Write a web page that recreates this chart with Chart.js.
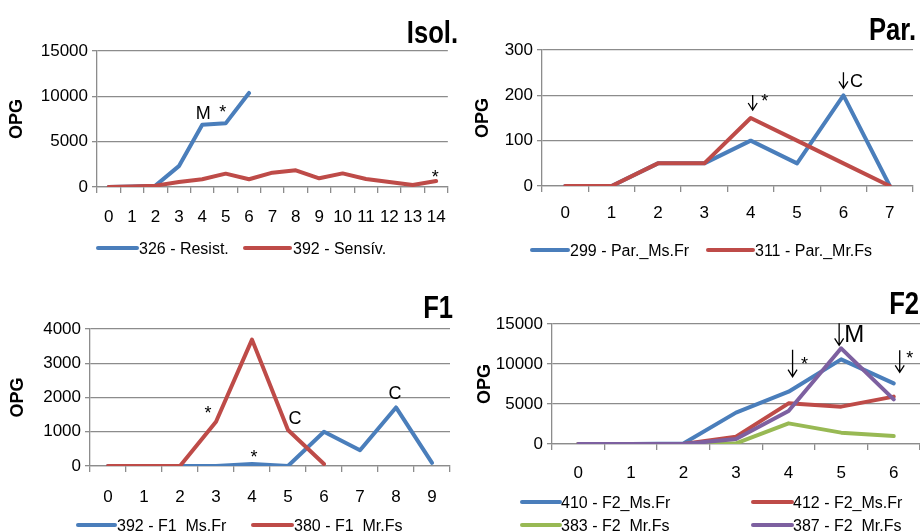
<!DOCTYPE html>
<html>
<head>
<meta charset="utf-8">
<script src="https://cdn.jsdelivr.net/npm/chart.js@4.4.0/dist/chart.umd.min.js"></script>
<style>
  html, body { margin: 0; padding: 0; background: #fff; }
  #wrap { position: relative; width: 920px; height: 532px; overflow: hidden; }
  canvas { position: absolute; }
</style>
</head>
<body>
<div id="wrap">
  <canvas id="isol" width="460" height="266" style="left:0;top:0"></canvas>
  <canvas id="par" width="460" height="266" style="left:460px;top:0"></canvas>
  <canvas id="f1" width="460" height="266" style="left:0;top:266px"></canvas>
  <canvas id="f2" width="460" height="266" style="left:460px;top:266px"></canvas>
</div>
<script>
// chart data
const isolDays = ['0','1','2','3','4','5','6','7','8','9','10','11','12','13','14'];
const isolResist = [0, 50, 150, 2300, 6870, 7020, 10370];
const isolSensiv = [0, 50, 150, 550, 850, 1470, 850, 1580, 1840, 960, 1500, 880, 550, 220, 660];

const parDays = ['0','1','2','3','4','5','6','7'];
const parMsFr = [0, 0, 50, 50, 100, 50, 200, 0];
const parMrFs = [0, 0, 50, 50, 150, 100, 50, 0];

const f1Days = ['0','1','2','3','4','5','6','7','8','9'];
const f1MsFr = [0, 0, 0, 0, 60, 0, 1000, 460, 1710, 90];
const f1MrFs = [0, 0, 0, 1290, 3690, 1050, 60];

const f2Days = ['0','1','2','3','4','5','6'];
const f2_410 = [0, 0, 60, 3920, 6540, 10580, 7580];
const f2_412 = [0, 0, 0, 920, 5080, 4670, 5920];
const f2_383 = [0, 0, 0, 80, 2580, 1420, 1000];
const f2_387 = [0, 0, 0, 620, 4130, 11960, 5580];

const BLUE = '#4A7EBB', RED = '#BE4B48', GREEN = '#98B954', PURPLE = '#7D60A0';
const GRID = '#8c8c8c';
const FONT = '"Liberation Sans", Arial, sans-serif';

Chart.defaults.font.family = FONT;
Chart.defaults.color = '#000';

// title, legend and the little marks (M, C, *, arrows) drawn Excel-style
const panelDecor = {
  id: 'panelDecor',
  afterDatasetsDraw(chart, args, opts) {
    const ctx = chart.ctx;
    const xs = chart.scales.x, ys = chart.scales.y;
    ctx.save();

    // condensed bold title (no narrow font installed, so squeeze it)
    ctx.save();
    ctx.fillStyle = '#000';
    ctx.font = 'bold 32px ' + FONT;
    ctx.textAlign = 'right';
    ctx.textBaseline = 'alphabetic';
    ctx.translate(opts.titleX, opts.titleY);
    ctx.scale(0.8, 1);
    ctx.fillText(opts.title, 0, 0);
    ctx.restore();

    // legend
    ctx.font = '16px ' + FONT;
    ctx.textAlign = 'left';
    opts.legend.forEach((it, k) => {
      const ds = chart.data.datasets[k];
      ctx.strokeStyle = ds.borderColor;
      ctx.lineWidth = 4;
      ctx.lineCap = 'round';
      ctx.beginPath();
      ctx.moveTo(it.x1, it.y);
      ctx.lineTo(it.x2, it.y);
      ctx.stroke();
      ctx.fillStyle = '#000';
      ctx.fillText(ds.label, it.tx, it.y + 6);
    });

    // notes anchored on data points
    ctx.textAlign = 'center';
    opts.notes.forEach(n => {
      const ds = chart.data.datasets[n.ds];
      const px = xs.getPixelForValue(n.i);
      const py = ys.getPixelForValue(ds.data[n.i]);
      if (n.arrow) {
        const ax = px + n.arrow[0], y1 = py + n.arrow[1], y2 = py + n.arrow[2];
        ctx.strokeStyle = '#000';
        ctx.lineWidth = 1.3;
        ctx.lineCap = 'butt';
        ctx.beginPath();
        ctx.moveTo(ax, y1);
        ctx.lineTo(ax, y2);
        ctx.moveTo(ax - 4.5, y2 - 7);
        ctx.lineTo(ax, y2);
        ctx.lineTo(ax + 4.5, y2 - 7);
        ctx.stroke();
      }
      const size = n.size || 18;
      const k = n.text === '*' ? 0.57 : 0.36;
      ctx.fillStyle = '#000';
      ctx.font = size + 'px ' + FONT;
      ctx.fillText(n.text, px + n.dx, py + n.dy + k * size);
    });
    ctx.restore();
  }
};

function series(label, data, color, order) {
  return {
    label: label,
    data: data,
    borderColor: color,
    backgroundColor: color,
    borderWidth: 4,
    borderJoinStyle: 'round',
    borderCapStyle: 'round',
    pointRadius: 0,
    tension: 0,
    fill: false,
    order: order
  };
}

function makePanel(id, labels, datasets, ax, decor) {
  return new Chart(document.getElementById(id), {
    type: 'line',
    data: { labels: labels, datasets: datasets },
    options: {
      responsive: false,
      animation: false,
      events: [],
      layout: { padding: { left: 0, top: ax.top, right: ax.right, bottom: ax.bottom } },
      scales: {
        x: {
          offset: true,
          grid: { drawOnChartArea: false, offset: true, tickLength: 6, color: GRID, lineWidth: 1.3 },
          border: { color: GRID, width: 1.3 },
          ticks: { autoSkip: false, maxRotation: 0, padding: ax.xPad, font: { size: 17 } },
          afterFit: s => { s.height = 40; }
        },
        y: {
          min: 0,
          max: ax.max,
          grid: { color: GRID, lineWidth: 1.3, tickLength: 5 },
          border: { color: GRID, width: 1.3 },
          ticks: { stepSize: ax.step, padding: 4, font: { size: 17 }, callback: v => String(v) },
          title: { display: true, text: 'OPG', font: { size: 18, weight: 'bold' }, padding: { top: ax.titlePad, bottom: 0 } },
          afterFit: s => { s.width = ax.left; }
        }
      },
      plugins: {
        legend: { display: false },
        tooltip: { enabled: false },
        panelDecor: decor
      }
    },
    plugins: [panelDecor]
  });
}

makePanel('isol', isolDays, [
  series('326 - Resist.', isolResist, BLUE, 2),
  series('392 - Sensív.', isolSensiv, RED, 1)
], { left: 97, right: 12, top: 51, bottom: 39, max: 15000, step: 5000, xPad: 14, titlePad: 6 }, {
  title: 'Isol.', titleX: 458, titleY: 43,
  legend: [{ x1: 98, x2: 137, tx: 139, y: 248 }, { x1: 245, x2: 290, tx: 293, y: 248 }],
  notes: [
    { ds: 0, i: 4, dx: 1, dy: -12, text: 'M' },
    { ds: 0, i: 5, dx: -3, dy: -16, text: '*' },
    { ds: 1, i: 14, dx: -1, dy: -8, text: '*' }
  ]
});

makePanel('par', parDays, [
  series('299 - Par._Ms.Fr', parMsFr, BLUE, 2),
  series('311 - Par._Mr.Fs', parMrFs, RED, 1)
], { left: 82, right: 7, top: 50, bottom: 40, max: 300, step: 100, xPad: 11, titlePad: 12 }, {
  title: 'Par.', titleX: 456, titleY: 40,
  legend: [{ x1: 72, x2: 108, tx: 110, y: 250 }, { x1: 248, x2: 293, tx: 295, y: 250 }],
  notes: [
    { ds: 1, i: 4, dx: 14, dy: -21, text: '*', arrow: [2, -23, -8] },
    { ds: 0, i: 6, dx: 13, dy: -15, text: 'C', arrow: [0, -23, -7] }
  ]
});

makePanel('f1', f1Days, [
  series('392 - F1_Ms.Fr', f1MsFr, BLUE, 2),
  series('380 - F1_Mr.Fs', f1MrFs, RED, 1)
], { left: 90, right: 10, top: 63, bottom: 26, max: 4000, step: 1000, xPad: 15, titlePad: 7 }, {
  title: 'F1', titleX: 453, titleY: 52,
  legend: [{ x1: 78, x2: 115, tx: 117, y: 259 }, { x1: 253, x2: 292, tx: 294, y: 259 }],
  notes: [
    { ds: 1, i: 3, dx: -8, dy: -13, text: '*' },
    { ds: 0, i: 4, dx: 2, dy: -11, text: '*' },
    { ds: 1, i: 5, dx: 7, dy: -13, text: 'C' },
    { ds: 0, i: 8, dx: -1, dy: -15, text: 'C' }
  ]
});

makePanel('f2', f2Days, [
  series('410 - F2_Ms.Fr', f2_410, BLUE, 4),
  series('412 - F2_Ms.Fr', f2_412, RED, 3),
  series('383 - F2_Mr.Fs', f2_383, GREEN, 2),
  series('387 - F2_Mr.Fs', f2_387, PURPLE, 1)
], { left: 92, right: 0, top: 58, bottom: 48, max: 15000, step: 5000, xPad: 13, titlePad: 14 }, {
  title: 'F2', titleX: 459, titleY: 48,
  legend: [
    { x1: 62, x2: 100, tx: 101, y: 236 }, { x1: 293, x2: 332, tx: 333, y: 236 },
    { x1: 62, x2: 100, tx: 101, y: 259 }, { x1: 293, x2: 332, tx: 333, y: 259 }
  ],
  notes: [
    { ds: 0, i: 4, dx: 16, dy: -32, text: '*', arrow: [4, -42, -15] },
    { ds: 3, i: 5, dx: 13, dy: -15, text: 'M', size: 24, arrow: [-2, -25, -3] },
    { ds: 0, i: 6, dx: 16, dy: -30, text: '*', arrow: [6, -33, -11] }
  ]
});
</script>
</body>
</html>
